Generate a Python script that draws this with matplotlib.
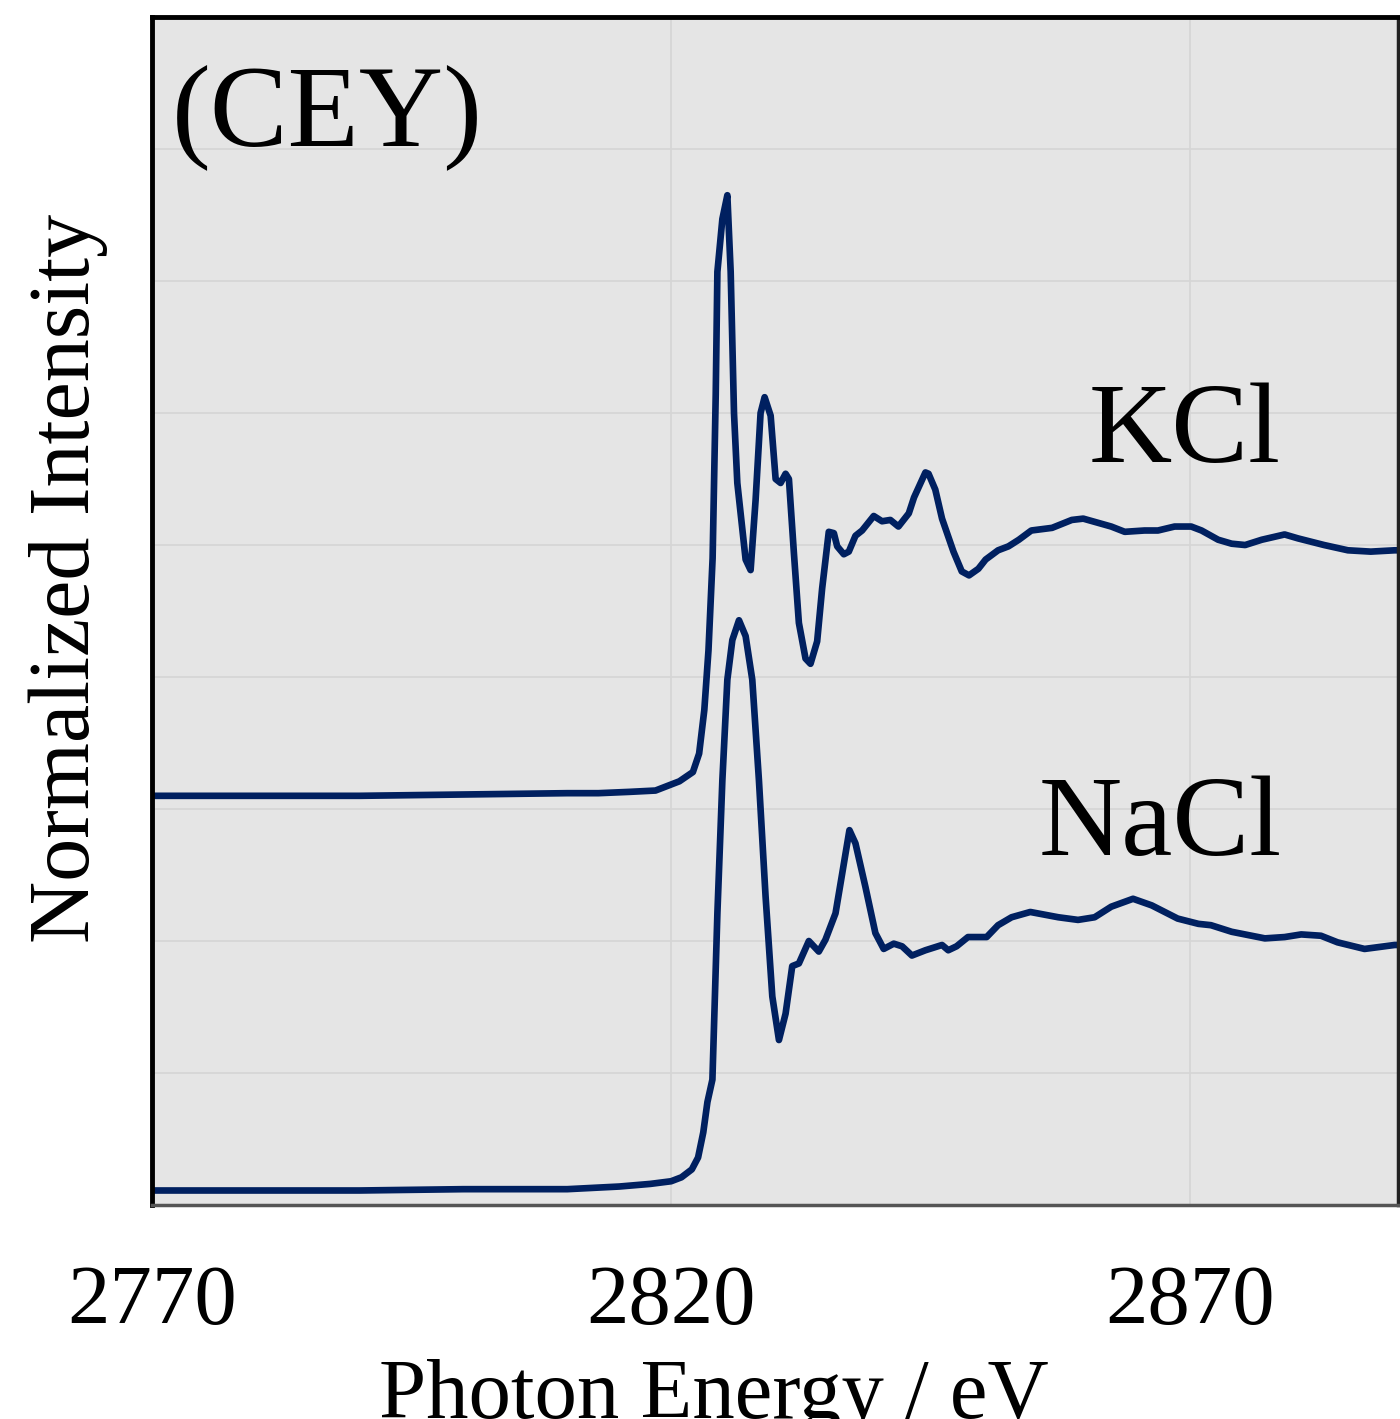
import numpy as np
import matplotlib
matplotlib.use("Agg")
import matplotlib.pyplot as plt

plt.rcParams['font.family'] = ['Liberation Serif', 'DejaVu Serif']

# KCl spectrum (offset)
kcl_e = [2770, 2790, 2800, 2810, 2813, 2816, 2818.5, 2820.8, 2822.1, 2822.7, 2823.2,
         2823.6, 2824.0, 2824.3, 2824.46, 2824.94, 2825.42, 2825.74, 2826.06, 2826.38,
         2827.18, 2827.66, 2828.14, 2828.62, 2829.01, 2829.59, 2830.07, 2830.55, 2831.03,
         2831.35, 2831.83, 2832.31, 2832.95, 2833.43, 2834.07, 2834.55, 2835.19, 2835.68,
         2836.0, 2836.64, 2837.12, 2837.76, 2838.4, 2839.52, 2840.32, 2841.12, 2841.9,
         2842.9, 2843.4, 2844.5, 2844.8, 2845.45, 2846.1, 2847.2, 2848.0, 2848.7, 2849.6,
         2850.3, 2851.5, 2852.5, 2853.5, 2854.7, 2856.7, 2858.6, 2859.7, 2861.5, 2862.4,
         2863.7, 2865.6, 2866.9, 2868.5, 2870.1, 2871.1, 2872.7, 2874.0, 2875.3, 2876.9,
         2879.1, 2880.4, 2882.9, 2885.2, 2887.4, 2889.7, 2890]
kcl_i = [3.10, 3.10, 3.11, 3.12, 3.12, 3.13, 3.14, 3.21, 3.28, 3.42, 3.75,
         4.2, 4.9, 6.14, 7.07, 7.47, 7.65, 7.07, 6.0, 5.47,
         4.89, 4.81, 5.34, 6.0, 6.12, 5.98, 5.50, 5.47, 5.54,
         5.50, 4.94, 4.41, 4.14, 4.10, 4.27, 4.67, 5.10, 5.09,
         4.99, 4.93, 4.95, 5.07, 5.11, 5.22, 5.18, 5.19, 5.14,
         5.24, 5.36, 5.55, 5.54, 5.42, 5.20, 4.95, 4.80, 4.77, 4.82,
         4.89, 4.96, 4.99, 5.04, 5.11, 5.13, 5.19, 5.20, 5.16, 5.14,
         5.10, 5.11, 5.11, 5.14, 5.14, 5.11, 5.04, 5.01, 5.00, 5.04,
         5.08, 5.05, 5.00, 4.96, 4.95, 4.96, 4.96]

# NaCl spectrum
nacl_e = [2770, 2790, 2800, 2810, 2815, 2818, 2820, 2821, 2822.0, 2822.6, 2823.1,
          2823.5, 2823.98, 2824.46, 2824.94, 2825.42, 2825.9, 2826.54, 2827.18, 2827.82,
          2828.46, 2829.1, 2829.75, 2830.39, 2831.03, 2831.67, 2832.31, 2833.27, 2834.23,
          2834.87, 2835.84, 2836.48, 2837.18, 2837.76, 2838.72, 2839.68, 2840.48, 2841.45,
          2842.25, 2843.2, 2844.5, 2846.1, 2846.7, 2847.5, 2848.6, 2850.4, 2851.5, 2852.8,
          2854.6, 2857.3, 2859.2, 2860.8, 2862.4, 2864.5, 2866.3, 2868.8, 2870.8, 2872.0,
          2874.0, 2877.2, 2879.1, 2880.7, 2882.6, 2884.2, 2886.8, 2889.7, 2890]
nacl_i = [0.11, 0.11, 0.12, 0.12, 0.14, 0.16, 0.18, 0.21, 0.27, 0.36, 0.55,
          0.78, 0.95, 2.21, 3.22, 3.98, 4.28, 4.43, 4.31, 3.98,
          3.22, 2.34, 1.58, 1.25, 1.45, 1.81, 1.83, 2.00, 1.92,
          2.01, 2.21, 2.51, 2.84, 2.74, 2.41, 2.06, 1.94, 1.98,
          1.96, 1.89, 1.93, 1.97, 1.93, 1.96, 2.03, 2.03, 2.12, 2.18,
          2.22, 2.18, 2.16, 2.18, 2.26, 2.32, 2.27, 2.17, 2.13, 2.12,
          2.07, 2.02, 2.03, 2.05, 2.04, 1.99, 1.94, 1.97, 1.97]

xticks = [2770, 2820, 2870]
line_col = '#002060'

fig = plt.figure(figsize=(14, 14.19), dpi=100)
ax = fig.add_axes([0.1086, 0.1508, 0.8898, 0.8372])
ax.set_facecolor('#e5e5e5')

ax.plot(kcl_e, kcl_i, color=line_col, lw=4.8, solid_joinstyle='round',
        solid_capstyle='round')
ax.plot(nacl_e, nacl_i, color=line_col, lw=4.8, solid_joinstyle='round',
        solid_capstyle='round')

ax.set_xlim(2770, 2890)
ax.set_ylim(0, 9)
ax.set_xticks(xticks)
ax.set_xticklabels([str(t) for t in xticks])
ax.set_yticks(range(1, 9))
ax.set_yticklabels([])
ax.grid(True, color='#d5d5d5', lw=1.2)
ax.set_axisbelow(True)
ax.tick_params(axis='both', length=0)
ax.tick_params(axis='x', labelsize=61, pad=43)

for s in ['left', 'top']:
    ax.spines[s].set_linewidth(3.5)
    ax.spines[s].set_color('black')
ax.spines['right'].set_linewidth(2.5)
ax.spines['right'].set_color('#222222')
ax.spines['bottom'].set_linewidth(2.5)
ax.spines['bottom'].set_color('#555555')

ax.set_xlabel('Photon Energy / eV', fontsize=61)
ax.xaxis.set_label_coords(0.451, -0.13)
ax.xaxis.label.set_va('top')
fig.text(0.049, 1 - 578 / 1419, 'Normalized Intensity', rotation=90,
         fontsize=62, ha='center', va='center')

ax.text(0.016, 0.892, '(CEY)', transform=ax.transAxes, fontsize=84,
        ha='left', va='baseline')
ax.text(2860.2, 5.63, 'KCl', fontsize=83, ha='left', va='baseline')
ax.text(2855.4, 2.65, 'NaCl', fontsize=83, ha='left', va='baseline')

fig.savefig('out.png', dpi=100)
